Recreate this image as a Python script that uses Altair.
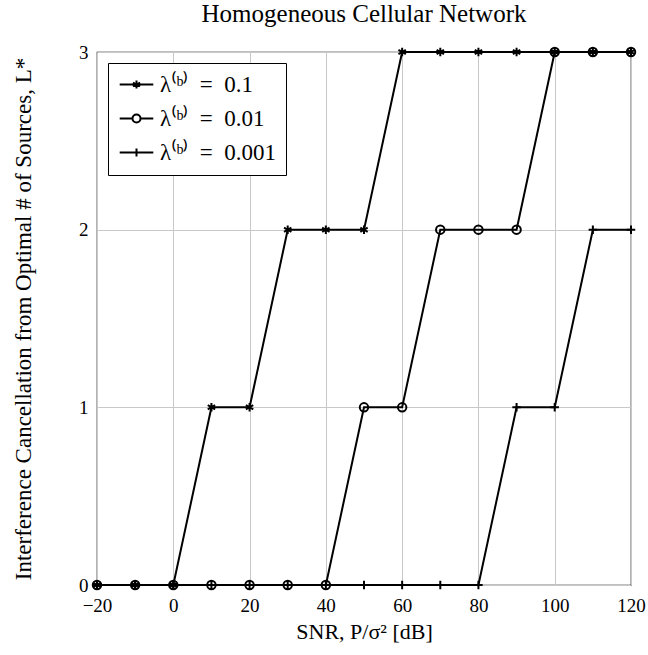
import altair as alt
import pandas as pd

snr = [-20, -10, 0, 10, 20, 30, 40, 50, 60, 70, 80, 90, 100, 110, 120]
L_a = [0, 0, 0, 1, 1, 2, 2, 2, 3, 3, 3, 3, 3, 3, 3]
L_b = [0, 0, 0, 0, 0, 0, 0, 1, 1, 2, 2, 2, 3, 3, 3]
L_c = [0, 0, 0, 0, 0, 0, 0, 0, 0, 0, 0, 1, 1, 2, 2]
series = ["λ⁽ᵇ⁾\u2002=\u20020.1", "λ⁽ᵇ⁾\u2002=\u20020.01", "λ⁽ᵇ⁾\u2002=\u20020.001"]
x_ticks = [-20, 0, 20, 40, 60, 80, 100, 120]
y_ticks = [0, 1, 2, 3]

rows = []
for name, vals in zip(series, [L_a, L_b, L_c]):
    for s, v in zip(snr, vals):
        rows.append({"snr": s, "L": v, "series": name, "leg": name})
df = pd.DataFrame(rows)

star = "M0,-1V1M-0.87,-0.5L0.87,0.5M-0.87,0.5L0.87,-0.5"
circ = "M-1,0A1,1 0 1,1 1,0A1,1 0 1,1 -1,0Z"
plus = "M-1,0H1M0,-1V1"
leg_star = "M-4.2,0H4.2" + star
leg_circ = "M-4.2,0H-1M1,0H4.2" + circ
leg_plus = "M-4.2,0H4.2" + plus

FONT = "Liberation Serif"

x = alt.X("snr:Q", scale=alt.Scale(domain=[-20, 120], nice=False),
          axis=alt.Axis(values=x_ticks, title="SNR, P/σ² [dB]", format="d"))
y = alt.Y("L:Q", scale=alt.Scale(domain=[0, 3], nice=False),
          axis=alt.Axis(values=y_ticks, title="Interference Cancellation from Optimal # of Sources, L*",
                        format="d", titleFontSize=23))

lines = alt.Chart(df).mark_line(color="black", strokeWidth=2).encode(
    x=x, y=y, detail="series:N")

points = alt.Chart(df).mark_point(filled=False, stroke="black", strokeWidth=2, size=72, opacity=1).encode(
    x=x, y=y,
    shape=alt.Shape("series:N", scale=alt.Scale(domain=series, range=[star, circ, plus]), legend=None))

legend_layer = alt.Chart(df).mark_point(filled=False, stroke="black", opacity=0, size=64).encode(
    x=x, y=y,
    shape=alt.Shape("leg:N", scale=alt.Scale(domain=series, range=[leg_star, leg_circ, leg_plus]),
                    legend=alt.Legend(title=None, orient="none", legendX=11, legendY=11,
                                      symbolOpacity=1, symbolSize=64, symbolStrokeColor="black",
                                      symbolFillColor="transparent", symbolStrokeWidth=2,
                                      labelFont=FONT, labelFontSize=23, labelColor="black",
                                      labelOffset=12, rowPadding=10,
                                      padding=10, strokeColor="black", fillColor="white",
                                      symbolOffset=7, offset=0)))

chart = alt.layer(lines, points, legend_layer).resolve_scale(shape="independent").properties(
    width=534, height=533,
    title=alt.TitleParams("Homogeneous Cellular Network", font=FONT, fontSize=25,
                          fontWeight="normal", color="black", offset=16),
    autosize=alt.AutoSizeParams(type="none"),
    padding={"left": 97, "top": 52, "right": 17, "bottom": 70},
).configure_view(stroke="black", strokeWidth=1.2).configure_axis(
    grid=True, gridColor="#c8c8c8", gridWidth=1, ticks=False, domain=False, labelFlush=False,
    labelFont=FONT, labelFontSize=19, labelColor="black",
    titleFont=FONT, titleFontSize=22, titleFontWeight="normal", titleColor="black",
).configure_axisX(labelPadding=11, titlePadding=6).configure_axisY(labelPadding=9, titlePadding=43)

chart.save("out.html", embed_options={"renderer": "svg", "actions": False})
